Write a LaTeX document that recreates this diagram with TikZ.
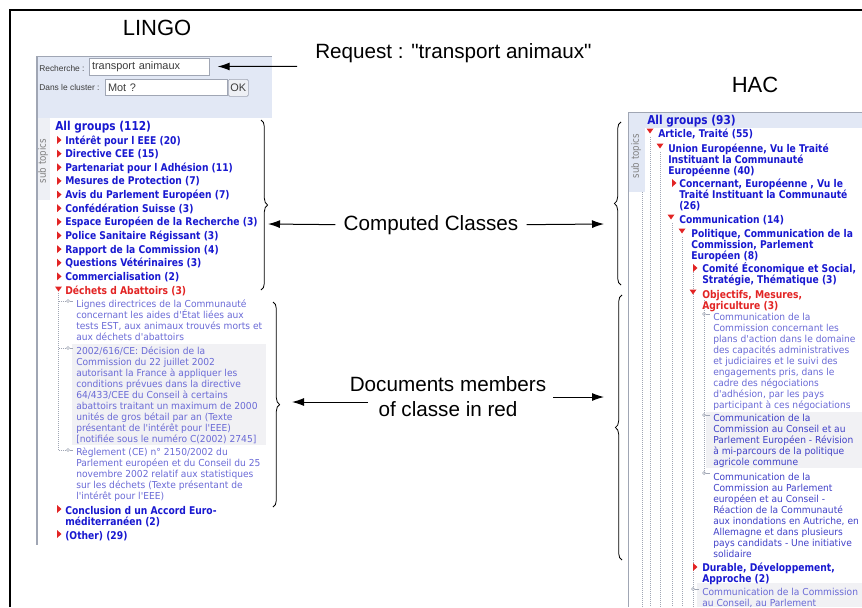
\documentclass[tikz,border=0pt]{standalone}
\usepackage{fontspec}
\setmainfont{Liberation Sans}
\newfontfamily\reqfont[Ligatures=TeXOff]{Liberation Sans}
\newfontfamily\tahfont[FakeStretch=0.86]{DejaVu Sans}
\newfontfamily\docfont[FakeStretch=0.95]{DejaVu Sans}
\usetikzlibrary{arrows.meta,decorations.pathreplacing}

\definecolor{itemblue}{RGB}{24,24,208}
\definecolor{selred}{RGB}{226,36,36}
\definecolor{docblue}{RGB}{106,106,214}
\definecolor{docdark}{RGB}{64,64,200}
\definecolor{formblue}{RGB}{226,232,245}
\definecolor{stripgray}{RGB}{238,240,245}
\definecolor{rowgray}{RGB}{241,241,244}
\definecolor{edgegray}{RGB}{160,166,180}
\definecolor{inktext}{RGB}{60,60,60}

\newcommand{\shutmark}[2]{\fill[selred] (#1,#2-4) -- (#1+4.5,#2) -- (#1,#2+4) -- cycle;}
\newcommand{\openmark}[2]{\fill[selred] (#1-3.5,#2-2.5) -- (#1+3.5,#2-2.5) -- (#1,#2+2.5) -- cycle;}

\tikzset{
    paneltitle/.style = {
        font=\fontsize{16.5}{20}\selectfont,
        inner sep=0pt},
    callout/.style = {
        font=\fontsize{15.5}{18.75}\selectfont,
        align=center,
        inner sep=6pt},
    group/.style = {
        font=\tahfont\bfseries\fontsize{8}{8.25}\selectfont,
        text=itemblue,
        align=left,
        inner sep=0pt,
        anchor=base west},
    allgroups/.style = {
        group,
        font=\tahfont\bfseries\fontsize{9.2}{11}\selectfont},
    chosen/.style = {
        group,
        text=selred},
    member/.style = {
        font=\docfont\fontsize{7.2}{8.25}\selectfont,
        text=docblue,
        align=left,
        inner sep=0pt,
        anchor=base west},
    formtext/.style = {
        font=\fontsize{6.3}{7}\selectfont,
        text=inktext,
        inner sep=0pt,
        anchor=west},
    inputbox/.style = {
        draw=edgegray,
        fill=white,
        line width=0.5pt,
        font=\fontsize{8.2}{9}\selectfont,
        text=inktext,
        align=left,
        inner sep=2pt,
        anchor=north west},
    subtopics/.style = {
        font=\tahfont\fontsize{7.6}{8}\selectfont,
        text=gray,
        rotate=90,
        inner sep=0pt},
    treeline/.style = {
        edgegray,
        densely dotted,
        line width=0.5pt},
    pointer/.style = {
        -{Latex[length=9pt,width=6pt]},
        line width=0.75pt},
    classbrace/.style = {
        decorate,
        decoration={brace, amplitude=5pt},
        line width=0.6pt}
}

\begin{document}
\begin{tikzpicture}[x=0.75pt, y=-0.75pt]

\useasboundingbox (0,0) rectangle (862,607);
\clip (0,0) rectangle (862,607);

\draw[line width=1.5pt] (10,607) -- (10,10) -- (862,10);

\node[paneltitle] (lingo) at (157,28) {LINGO};
\node[paneltitle] (hac) at (755,85) {HAC};

% LINGO panel (multi-line nodes sit on the baseline of their last line)
\fill[formblue] (37,56) rectangle (272,118);
\draw[edgegray, line width=0.5pt] (37,56) -- (272,56);
\fill[stripgray] (37,118) rectangle (50,200);
\draw[edgegray, line width=1pt] (37,56) -- (37,545);

\node[formtext] (rech) at (39,68) {Recherche :};
\node[inputbox, text width=86pt, minimum height=13pt] (query) at (89,57.5) {transport animaux};
\node[formtext] (dans) at (39,87.5) {Dans le cluster :};
\node[inputbox, text width=87.5pt, minimum height=12pt] (cluster) at (105,79) {Mot ?};
\node[inputbox, fill=stripgray, align=center, minimum width=15pt, minimum height=12.75pt, inner sep=0pt, rounded corners=1pt] (okbtn) at (228,79) {OK};

\node[subtopics] (lsub) at (43,161) {sub topics};
\node[allgroups] (lg0) at (55,130) {All groups (112)};

\foreach \name [count=\i, evaluate=\i as \ly using 140+(\i-1)*13.64] in
    {Intérêt pour l EEE (20), Directive CEE (15), Partenariat pour l Adhésion (11),
     Mesures de Protection (7), Avis du Parlement Européen (7), Confédération Suisse (3),
     Espace Européen de la Recherche (3), Police Sanitaire Régissant (3),
     Rapport de la Commission (4), Questions Vétérinaires (3), Commercialisation (2)}
{
    \shutmark{57}{\ly}
    \node[group] (lg\i) at (65,\ly+4) {\name};
}

\openmark{58.5}{289}
\node[chosen] (lsel) at (65,294) {Déchets d Abattoirs (3)};

\fill[rowgray] (72,344) rectangle (266,445);
\draw[treeline] (58.5,293) -- (58.5,450);
\foreach \dy in {301,348,450}
{
    \draw[treeline] (58.5,\dy) -- (66,\dy);
    \draw[edgegray, line width=0.4pt] (68,\dy) circle (1.2pt);
    \draw[edgegray, line width=0.4pt] (69.6,\dy) -- (73,\dy);
}

\node[member] (ld1) at (76,340.5) {Lignes directrices de la Communauté\\concernant les aides d'État liées aux\\tests EST, aux animaux trouvés morts et\\aux déchets d'abattoirs};
\node[member] (ld2) at (76,442.5) {2002/616/CE: Décision de la\\Commission du 22 juillet 2002\\autorisant la France à appliquer les\\conditions prévues dans la directive\\64/433/CEE du Conseil à certains\\abattoirs traitant un maximum de 2000\\unités de gros bétail par an (Texte\\présentant de l'intérêt pour l'EEE)\\{[}notifiée sous le numéro C(2002) 2745{]}};
\node[member] (ld3) at (76,499.5) {Règlement (CE) n° 2150/2002 du\\Parlement européen et du Conseil du 25\\novembre 2002 relatif aux statistiques\\sur les déchets (Texte présentant de\\l'intérêt pour l'EEE)};

\shutmark{57}{509}
\node[group] (lg12) at (65,525) {Conclusion d un Accord Euro-\\méditerranéen (2)};
\shutmark{57}{534}
\node[group] (lg13) at (65,539) {(Other) (29)};

% HAC panel
\fill[formblue] (628,112) rectangle (862,128);
\fill[formblue] (628,128) rectangle (645,192);
\draw[edgegray, line width=0.7pt] (628,607) -- (628,112) -- (862,112);
\fill[rowgray] (706,412) rectangle (862,468);
\fill[rowgray] (697,583) rectangle (862,607);

\foreach \lx/\ly in {642/192, 650/137, 660/152, 672/223, 682/237, 693/272}
    \draw[treeline] (\lx,\ly) -- (\lx,607);
\draw[treeline] (704,300) -- (704,473);
\foreach \dx/\dy in {704/314, 704/415, 704/473, 693/589}
{
    \draw[edgegray, line width=0.4pt] (\dx,\dy) circle (1.2pt);
    \draw[edgegray, line width=0.4pt] (\dx+1.6,\dy) -- (\dx+6,\dy);
}

\node[subtopics] (hsub) at (636,156) {sub topics};
\node[allgroups] (hg0) at (647,124) {All groups (93)};

\openmark{650}{131}
\node[group] (hg1) at (658,137) {Article, Traité (55)};
\openmark{660}{146}
\node[group] (hg2) at (668,174) {Union Européenne, Vu le Traité\\Instituant la Communauté\\Européenne (40)};
\shutmark{672}{183}
\node[group] (hg3) at (679,209) {Concernant, Européenne , Vu le\\Traité Instituant la Communauté\\(26)};
\openmark{671}{217}
\node[group] (hg4) at (679,223) {Communication (14)};
\openmark{682}{231}
\node[group] (hg5) at (691,259) {Politique, Communication de la\\Commission, Parlement\\Européen (8)};
\shutmark{693}{268}
\node[group] (hg6) at (702,283) {Comité Économique et Social,\\Stratégie, Thématique (3)};
\openmark{693}{292}
\node[chosen] (hsel) at (702,309) {Objectifs, Mesures,\\Agriculture (3)};

\node[member] (hd1) at (713,408.5) {Communication de la\\Commission concernant les\\plans d'action dans le domaine\\des capacités administratives\\et judiciaires et le suivi des\\engagements pris, dans le\\cadre des négociations\\d'adhésion, par les pays\\participant à ces négociations};
\node[member, text=docdark] (hd2) at (713,465.5) {Communication de la\\Commission au Conseil et au\\Parlement Européen - Révision\\à mi-parcours de la politique\\agricole commune};
\node[member, text=docdark] (hd3) at (713,557.5) {Communication de la\\Commission au Parlement\\européen et au Conseil -\\Réaction de la Communauté\\aux inondations en Autriche, en\\Allemagne et dans plusieurs\\pays candidats - Une initiative\\solidaire};

\shutmark{693}{567}
\node[group] (hg7) at (702,582) {Durable, Développement,\\Approche (2)};
\node[member] (hd4) at (702,606.5) {Communication de la Commission\\au Conseil, au Parlement};

% braces and callouts
\draw[classbrace] (261,120) -- (261,290);
\draw[classbrace] (273,302) -- (273,507);
\draw[classbrace] (621,285) -- (621,122);
\draw[classbrace] (622,560) -- (622,295);

\node[inner sep=0pt, anchor=base west, font=\reqfont\fontsize{15.5}{18.75}\selectfont] (req) at (315,58) {Request : "transport animaux"};
\node[callout, anchor=base] (cc) at (431,230) {Computed Classes};
\node[callout] (dm) at (448,397) {Documents members\\of classe in red};

\coordinate (reqtail) at (297,66.3);
\coordinate (b1tip) at (268,224);
\coordinate (b2tip) at (292,402);
\coordinate (b3tip) at (604,224);
\coordinate (b4tip) at (604,397);
\coordinate (dmL) at (368,402);
\coordinate (dmR) at (553,397);

\draw[pointer] (reqtail) -- ([xshift=6pt]query.east);
\draw[pointer] (cc.west) -- (b1tip);
\draw[pointer] (cc.east) -- (b3tip);
\draw[pointer] (dmL) -- (b2tip);
\draw[pointer] (dmR) -- (b4tip);

\end{tikzpicture}
\end{document}
